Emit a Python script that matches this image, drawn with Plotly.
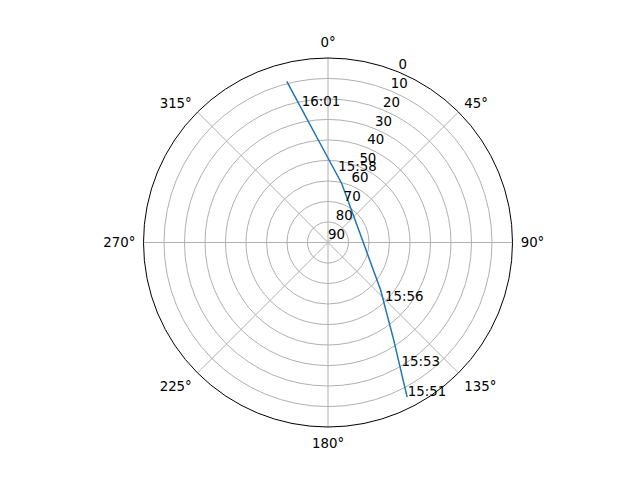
import plotly.graph_objects as go

# Satellite track (azimuth deg clockwise from north, elevation deg)
track_az = [152.9, 146.0, 132.1, 89.3, 40.4, 13.05, 357.4, 349.77, 345.65]
track_el = [5.26, 32.7, 55.4, 72.85, 71.4, 60.45, 44.95, 26.95, 8.9]

# Time labels along the track
label_text = ["15:51", "15:53", "15:56", "15:58", "16:01"]
label_az = [153.1, 149.9, 137.2, 8.65, 348.9]
label_el = [3.95, 18.4, 49.1, 56.6, 23.6]

angle_ticks = [0, 45, 90, 135, 180, 225, 270, 315]
angle_labels = [f"{a}°" for a in angle_ticks]
radial_ticks = [0, 10, 20, 30, 40, 50, 60, 70, 80, 90]
radial_label_angle = 22.5

font = dict(family="DejaVu Sans", size=13.33, color="black")

fig = go.Figure()
fig.add_trace(go.Scatterpolar(
    r=track_el, theta=track_az, mode="lines",
    line=dict(color="#1f77b4", width=1.5), showlegend=False, hoverinfo="skip"))
fig.add_trace(go.Scatterpolar(
    r=label_el, theta=label_az, mode="text", text=label_text,
    textposition="top right", textfont=font, showlegend=False, hoverinfo="skip"))
# radial tick labels (matplotlib style, at 22.5°)
fig.add_trace(go.Scatterpolar(
    r=radial_ticks, theta=[radial_label_angle] * len(radial_ticks), mode="text",
    text=[str(v) for v in radial_ticks], textposition="top right",
    textfont=font, showlegend=False, hoverinfo="skip", cliponaxis=False))

fig.update_layout(
    width=640, height=480,
    margin=dict(l=143.2, r=127.2, t=57.6, b=52.8),
    paper_bgcolor="white",
    font=font,
    polar=dict(
        bgcolor="white",
        domain=dict(x=[0, 1], y=[0, 1]),
        angularaxis=dict(
            rotation=90, direction="clockwise",
            tickmode="array", tickvals=angle_ticks, ticktext=angle_labels,
            ticks="outside", ticklen=5, tickcolor="rgba(0,0,0,0)",
            showline=True, linecolor="black", linewidth=1,
            showgrid=True, gridcolor="#b0b0b0", gridwidth=0.8,
            tickfont=font),
        radialaxis=dict(
            range=[90, 0], tickmode="array", tickvals=radial_ticks,
            ticks="", showline=False, showticklabels=False,
            showgrid=True, gridcolor="#b0b0b0", gridwidth=0.8),
    ),
)

fig.write_html("out.html", config={"displayModeBar": False},
               post_script="document.body.style.margin='0px';")
